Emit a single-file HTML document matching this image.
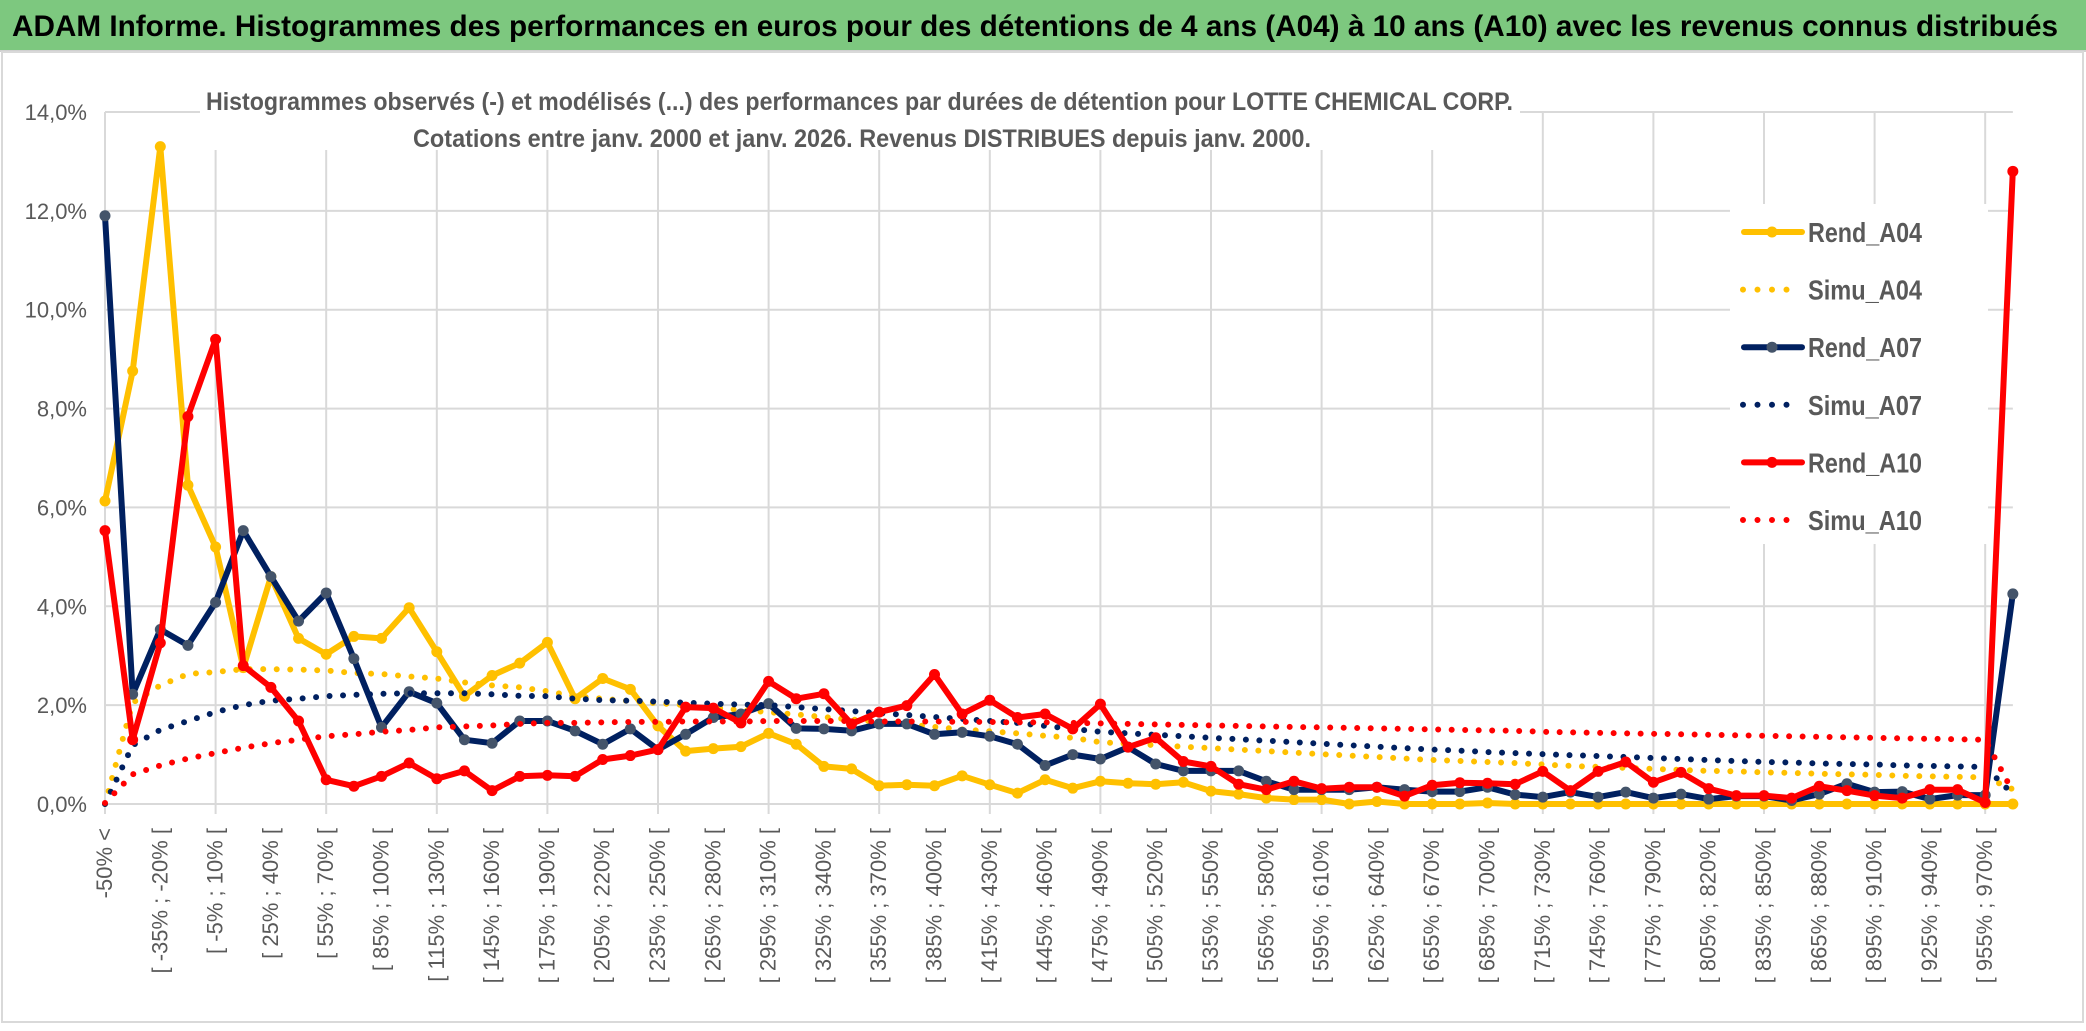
<!DOCTYPE html>
<html><head><meta charset="utf-8">
<style>
html,body{margin:0;padding:0;background:#fff;}
svg{display:block;font-family:"Liberation Sans",sans-serif;}
</style></head>
<body>
<svg id="chart" width="2086" height="1031" viewBox="0 0 2086 1031" xmlns="http://www.w3.org/2000/svg">
  <rect x="0" y="0" width="2086" height="1031" fill="#ffffff"/>
  <rect x="0" y="0" width="2086" height="50" fill="#7DC87F"/>
  <line x1="0" y1="51" x2="2086" y2="51" stroke="#d0d0d0" stroke-width="2"/>
  <text x="12" y="36" font-size="30" font-weight="bold" fill="#000" textLength="2046" lengthAdjust="spacingAndGlyphs">ADAM Informe. Histogrammes des performances en euros pour des détentions de 4 ans (A04) à 10 ans (A10) avec les revenus connus distribués</text>
  <rect x="2" y="52" width="2081" height="970" fill="none" stroke="#d9d9d9" stroke-width="2"/>
  <g id="grid"></g>
  <g id="ylabels"></g>
  <g id="xlabels"></g>
  <rect x="200" y="80" width="1320" height="70" fill="#fff"/>
  <text x="206" y="110" font-size="25" font-weight="bold" fill="#595959" textLength="1307" lengthAdjust="spacingAndGlyphs">Histogrammes observés (-) et modélisés (...) des performances par durées de détention pour LOTTE CHEMICAL CORP.</text>
  <text x="413" y="147" font-size="25" font-weight="bold" fill="#595959" textLength="898" lengthAdjust="spacingAndGlyphs">Cotations entre janv. 2000 et janv. 2026. Revenus DISTRIBUES depuis janv. 2000.</text>
  <rect x="1730" y="204" width="258" height="340" fill="#fff"/>
  <g id="series"></g>
  <g id="legend"></g>
</svg>
<script>
const categoriesStart = -50;
const categoriesStep = 15;
const categoryCount = 70;
const yTicks = [0, 2, 4, 6, 8, 10, 12, 14];
const yTickLabels = ["0,0%", "2,0%", "4,0%", "6,0%", "8,0%", "10,0%", "12,0%", "14,0%"];

const rendA04 = [6.13,8.76,13.3,6.45,5.2,2.76,4.6,3.35,3.03,3.39,3.35,3.97,3.08,2.18,2.6,2.85,3.27,2.13,
 2.54,2.32,1.58,1.07,1.12,1.16,1.43,1.21,0.76,0.71,0.37,0.39,0.37,0.57,0.39,0.22,0.49,0.32,
 0.46,0.42,0.4,0.44,0.26,0.2,0.12,0.09,0.09,0,0.05,0,0,0,0.02,0,0,
 0,0,0,0,0,0,0,0,0,0,0,0,0,0,0,0,0];
const simuA04 = [0,2.05,2.4,2.63,2.67,2.73,2.73,2.72,2.7,2.65,2.63,2.58,2.54,2.46,2.4,2.36,2.28,2.18,
 2.13,2.08,2.04,2.0,1.95,1.9,1.86,1.81,1.76,1.71,1.66,1.61,1.56,1.51,1.47,1.43,1.38,1.34,
 1.25,1.22,1.19,1.16,1.13,1.10,1.07,1.04,1.01,0.98,0.95,0.92,0.89,0.87,0.85,0.83,0.80,
 0.77,0.75,0.73,0.71,0.69,0.67,0.66,0.64,0.63,0.61,0.6,0.59,0.57,0.56,0.55,0.54,0.3];
const rendA07 = [11.9,2.22,3.53,3.21,4.08,5.53,4.6,3.7,4.27,2.94,1.55,2.27,2.04,1.3,1.23,1.68,1.68,1.48,
 1.21,1.52,1.1,1.41,1.75,1.82,2.03,1.53,1.52,1.48,1.62,1.62,1.41,1.45,1.37,1.21,0.78,1.0,
 0.91,1.15,0.81,0.67,0.67,0.67,0.46,0.29,0.29,0.29,0.34,0.29,0.25,0.25,0.34,0.19,0.14,
 0.24,0.14,0.24,0.12,0.2,0.1,0.16,0.16,0.07,0.2,0.41,0.24,0.25,0.1,0.18,0.18,4.25];
const simuA07 = [0,1.19,1.5,1.68,1.86,2.0,2.09,2.13,2.18,2.21,2.23,2.24,2.24,2.24,2.22,2.19,2.18,2.13,
 2.1,2.09,2.07,2.05,2.03,2.01,2.0,1.96,1.92,1.88,1.84,1.80,1.76,1.72,1.68,1.64,1.58,1.52,
 1.46,1.43,1.40,1.37,1.34,1.31,1.28,1.25,1.22,1.19,1.16,1.13,1.10,1.08,1.05,1.03,1.01,
 0.99,0.97,0.95,0.93,0.91,0.89,0.87,0.85,0.84,0.82,0.81,0.80,0.78,0.77,0.76,0.75,0.2];
const rendA10 = [5.53,1.3,3.26,7.84,9.4,2.8,2.36,1.68,0.49,0.36,0.56,0.83,0.51,0.67,0.27,0.56,0.58,0.56,
 0.9,0.98,1.1,1.96,1.94,1.64,2.48,2.13,2.23,1.62,1.86,1.99,2.62,1.82,2.1,1.75,1.82,1.52,
 2.02,1.15,1.34,0.86,0.76,0.4,0.29,0.46,0.31,0.34,0.34,0.16,0.38,0.43,0.42,0.4,0.66,
 0.27,0.66,0.85,0.44,0.64,0.31,0.17,0.17,0.12,0.36,0.27,0.17,0.12,0.29,0.29,0.03,12.8];
const simuA10 = [0.02,0.6,0.78,0.92,1.03,1.14,1.23,1.3,1.37,1.41,1.46,1.5,1.55,1.57,1.59,1.62,1.64,1.64,
 1.65,1.66,1.66,1.67,1.67,1.67,1.68,1.68,1.68,1.68,1.67,1.67,1.67,1.66,1.66,1.65,1.65,1.64,
 1.63,1.62,1.61,1.60,1.59,1.58,1.57,1.56,1.55,1.54,1.53,1.52,1.51,1.50,1.49,1.48,1.46,
 1.45,1.44,1.43,1.42,1.41,1.40,1.39,1.38,1.37,1.36,1.35,1.34,1.33,1.32,1.31,1.30,0.25];

const NS = "http://www.w3.org/2000/svg";
const X0 = 105, XSTEP = 27.65, Y0 = 804, YMAX = 14, YTOP = 112;
function xPos(i){ return X0 + i * XSTEP; }
function yPos(v){ return Y0 - (v / YMAX) * (Y0 - YTOP); }
function mk(tag, attrs, parent){
  const el = document.createElementNS(NS, tag);
  for (const k in attrs) el.setAttribute(k, attrs[k]);
  parent.appendChild(el);
  return el;
}
function catLabel(i){
  if (i === 0) return "-50% <";
  const a = categoriesStart + categoriesStep * (i - 1);
  return "[ " + a + "% ; " + (a + categoriesStep) + "% [";
}

const grid = document.getElementById("grid");
yTicks.forEach(function(t){
  const l = mk("line", {x1: X0, x2: xPos(categoryCount - 1), y1: yPos(t), y2: yPos(t), stroke: "#d9d9d9", "stroke-width": 2}, grid);
  
  
});
for (let i = 0; i < categoryCount; i += 4){
  const l = mk("line", {x1: xPos(i), x2: xPos(i), y1: yPos(YMAX), y2: Y0 + 10, stroke: "#d9d9d9", "stroke-width": 2}, grid);
  
  
}
const ylab = document.getElementById("ylabels");
yTicks.forEach(function(t, k){
  const tx = mk("text", {x: 87, y: yPos(t) + 8, "font-size": 22, fill: "#595959", "text-anchor": "end"}, ylab);
  tx.textContent = yTickLabels[k];
  
  
});
const xlab = document.getElementById("xlabels");
for (let i = 0; i < categoryCount - 1; i += 2){
  const x = xPos(i) + 7, y = 828;
  const tx = mk("text", {x: x, y: y, "font-size": 22, fill: "#595959", "text-anchor": "end", transform: "rotate(-90 " + x + " " + y + ")"}, xlab);
  tx.textContent = catLabel(i);
  
  
}

const series = document.getElementById("series");
function ptsOf(arr){ return arr.map(function(v, i){ return xPos(i).toFixed(1) + "," + yPos(v).toFixed(1); }).join(" "); }
function drawRend(arr, color, marker, name){
  const g = mk("g", {}, series);
  
  
  const pl = mk("polyline", {points: ptsOf(arr), fill: "none", stroke: color, "stroke-width": 6, "stroke-linejoin": "round"}, g);
  
  
  arr.forEach(function(v, i){
    const c = mk("circle", {cx: xPos(i), cy: yPos(v), r: 5.5, fill: marker}, g);
    
    
  });
}
function drawSimu(arr, color, name){
  const pl = mk("polyline", {points: ptsOf(arr), fill: "none", stroke: color, "stroke-width": 6, "stroke-linecap": "round", "stroke-dasharray": "0 13.5"}, series);
  
  
}
drawRend(rendA04, "#FFC000", "#FFC000", "rend-a04");
drawSimu(simuA04, "#FFC000", "simu-a04");
drawRend(rendA07, "#002060", "#44546A", "rend-a07");
drawSimu(simuA07, "#002060", "simu-a07");
drawRend(rendA10, "#FF0000", "#FF0000", "rend-a10");
drawSimu(simuA10, "#FF0000", "simu-a10");

const legendNames = ["Rend_A04", "Simu_A04", "Rend_A07", "Simu_A07", "Rend_A10", "Simu_A10"];
const legendColors = ["#FFC000", "#FFC000", "#002060", "#002060", "#FF0000", "#FF0000"];
const legendMarkers = ["#FFC000", null, "#44546A", null, "#FF0000", null];
const legend = document.getElementById("legend");
legendNames.forEach(function(n, k){
  const y = 232 + k * 57.6;
  const g = mk("g", {}, legend);
  
  
  if (legendMarkers[k]) {
    mk("line", {x1: 1744, x2: 1802, y1: y, y2: y, stroke: legendColors[k], "stroke-width": 6, "stroke-linecap": "round"}, g);
    mk("circle", {cx: 1772, cy: y, r: 5.5, fill: legendMarkers[k]}, g);
  } else {
    mk("line", {x1: 1743, x2: 1800, y1: y, y2: y, stroke: legendColors[k], "stroke-width": 6, "stroke-linecap": "round", "stroke-dasharray": "0 14.5"}, g);
  }
  const tx = mk("text", {x: 1808, y: y + 10, "font-size": 28, "font-weight": "bold", fill: "#595959", textLength: 114, lengthAdjust: "spacingAndGlyphs"}, g);
  tx.textContent = n;
  
  
});
</script>
</body></html>
